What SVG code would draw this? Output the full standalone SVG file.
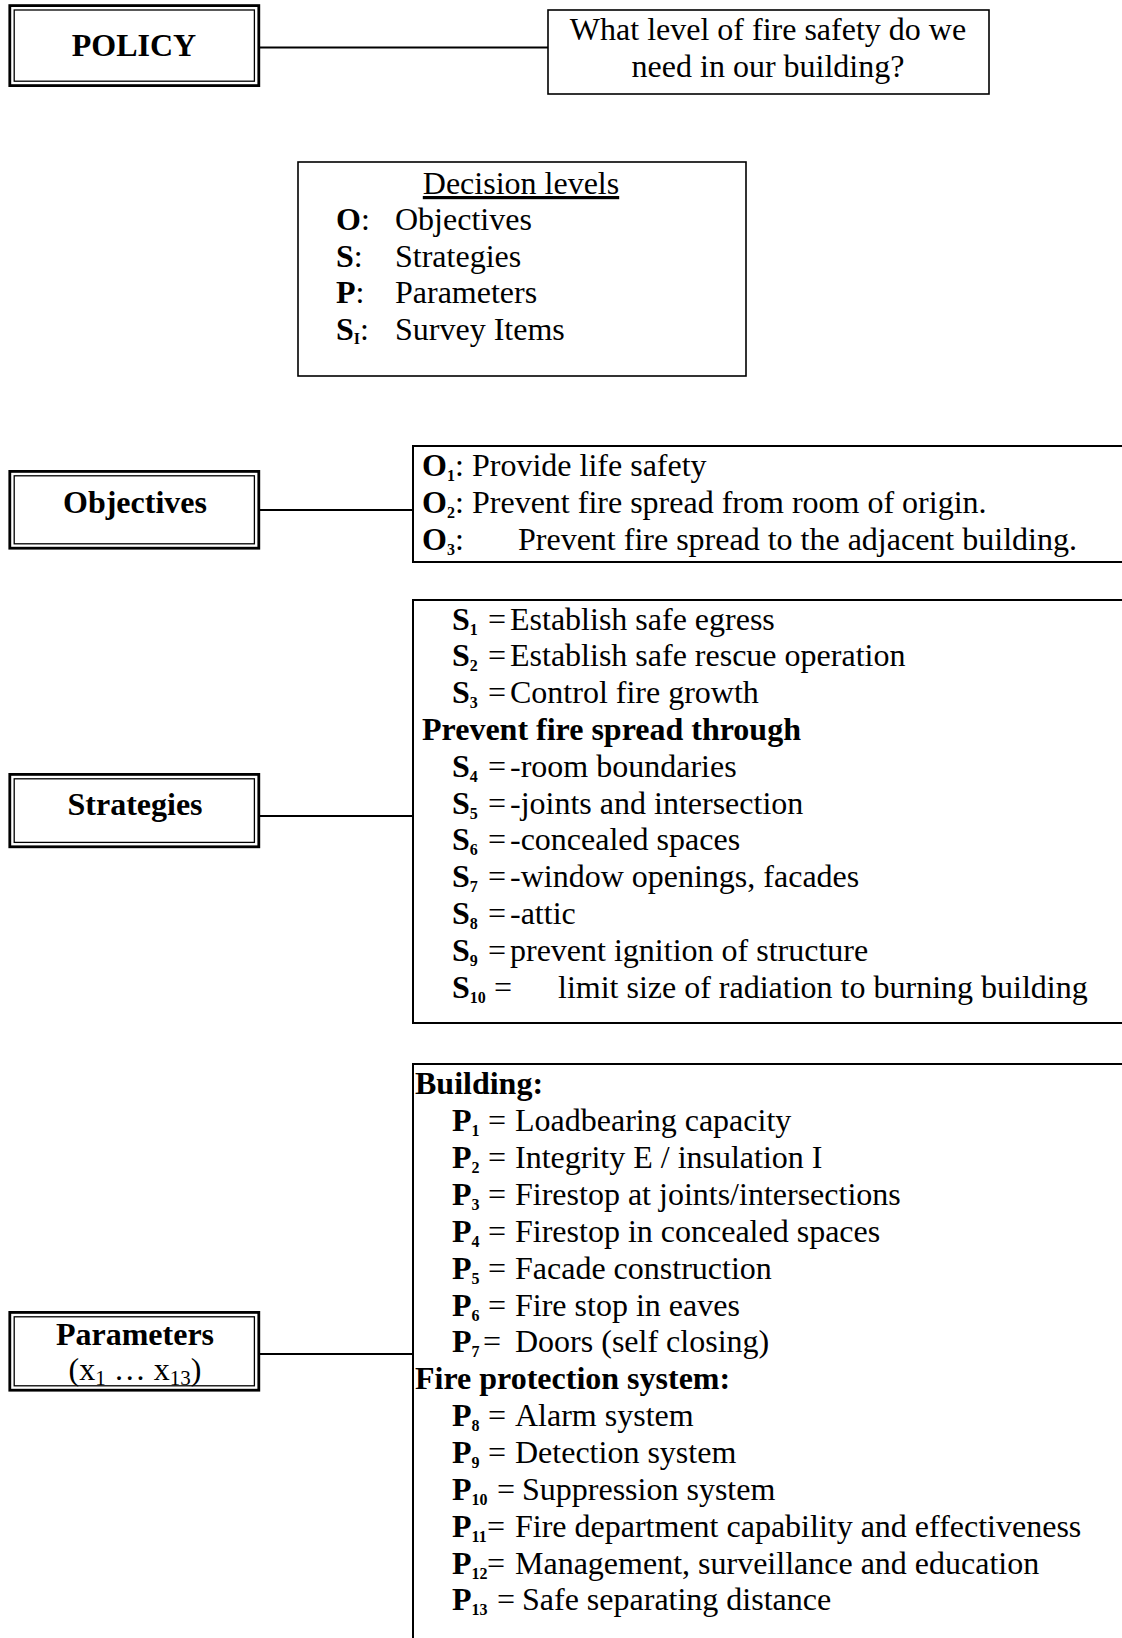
<svg xmlns="http://www.w3.org/2000/svg" width="1122" height="1638" viewBox="0 0 1122 1638">
<style>
.t{font-family:"Liberation Serif","Times New Roman",serif;font-size:32px;fill:#000}
.b{font-weight:bold}
.sb{font-size:16px;font-weight:bold}
.sn{font-size:21px}
.c{text-anchor:middle}
.box{fill:#fff;stroke:#000;stroke-width:1.6}
.lbox{fill:#fff;stroke:#000;stroke-width:2}
.outer{fill:#fff;stroke:#000;stroke-width:2.8}
.inner{fill:none;stroke:#000;stroke-width:1.3}
.conn{stroke:#000;stroke-width:2;fill:none}
</style>
<rect width="1122" height="1638" fill="#fff"/>
<g id="connectors">
<line class="conn" x1="260" y1="47.5" x2="548" y2="47.5"/>
<line class="conn" x1="260" y1="510" x2="413" y2="510"/>
<line class="conn" x1="260" y1="816" x2="413" y2="816"/>
<line class="conn" x1="260" y1="1354" x2="413" y2="1354"/>
</g>
<g id="policy">
<rect class="outer" x="9.8" y="5.6" width="249" height="80"/>
<rect class="inner" x="14.2" y="10" width="240.2" height="71.2"/>
<text class="t b c" x="134" y="56">POLICY</text>
</g>
<g id="question">
<rect class="box" x="548" y="10" width="441" height="84"/>
<text class="t c" x="768" y="40">What level of fire safety do we</text>
<text class="t c" x="768" y="77">need in our building?</text>
</g>
<g id="decision-levels">
<rect class="box" x="298" y="162" width="448" height="214"/>
<text class="t c" x="521" y="194" style="text-decoration:underline">Decision levels</text>
<text class="t" x="336" y="230"><tspan class="b">O</tspan>:</text>
<text class="t" x="395" y="230">Objectives</text>
<text class="t" x="336" y="266.5"><tspan class="b">S</tspan>:</text>
<text class="t" x="395" y="266.5">Strategies</text>
<text class="t" x="336" y="303"><tspan class="b">P</tspan>:</text>
<text class="t" x="395" y="303">Parameters</text>
<text class="t" x="336" y="340"><tspan class="b">S</tspan><tspan class="sb" dy="4">I</tspan><tspan dy="-4">:</tspan></text>
<text class="t" x="395" y="340">Survey Items</text>
</g>
<g id="objectives">
<rect class="outer" x="9.8" y="471.4" width="249" height="76.8"/>
<rect class="inner" x="14.2" y="475.8" width="240.2" height="68"/>
<text class="t b c" x="135" y="513">Objectives</text>
</g>
<g id="objectives-list">
<rect class="lbox" x="413" y="446" width="730" height="116"/>
<text class="t" x="422" y="476"><tspan class="b">O</tspan><tspan class="sb" dy="5">1</tspan><tspan dy="-5">:</tspan></text>
<text class="t" x="472" y="476">Provide life safety</text>
<text class="t" x="422" y="512.5"><tspan class="b">O</tspan><tspan class="sb" dy="5">2</tspan><tspan dy="-5">:</tspan></text>
<text class="t" x="472" y="512.5">Prevent fire spread from room of origin.</text>
<text class="t" x="422" y="550"><tspan class="b">O</tspan><tspan class="sb" dy="5">3</tspan><tspan dy="-5">:</tspan></text>
<text class="t" x="518" y="550">Prevent fire spread to the adjacent building.</text>
</g>
<g id="strategies">
<rect class="outer" x="9.8" y="774.4" width="249" height="72.4"/>
<rect class="inner" x="14.2" y="778.8" width="240.2" height="63.6"/>
<text class="t b c" x="135" y="815">Strategies</text>
</g>
<g id="strategies-list">
<rect class="lbox" x="413" y="600" width="730" height="423"/>
<text class="t b" x="452" y="629.5">S<tspan class="sb" dy="5">1</tspan></text><text class="t" x="488" y="629.5">=</text><text class="t" x="510" y="629.5">Establish safe egress</text>
<text class="t b" x="452" y="666.3">S<tspan class="sb" dy="5">2</tspan></text><text class="t" x="488" y="666.3">=</text><text class="t" x="510" y="666.3">Establish safe rescue operation</text>
<text class="t b" x="452" y="703.1">S<tspan class="sb" dy="5">3</tspan></text><text class="t" x="488" y="703.1">=</text><text class="t" x="510" y="703.1">Control fire growth</text>
<text class="t b" x="422" y="739.9">Prevent fire spread through</text>
<text class="t b" x="452" y="776.7">S<tspan class="sb" dy="5">4</tspan></text><text class="t" x="488" y="776.7">=</text><text class="t" x="510" y="776.7">-room boundaries</text>
<text class="t b" x="452" y="813.5">S<tspan class="sb" dy="5">5</tspan></text><text class="t" x="488" y="813.5">=</text><text class="t" x="510" y="813.5">-joints and intersection</text>
<text class="t b" x="452" y="850.3">S<tspan class="sb" dy="5">6</tspan></text><text class="t" x="488" y="850.3">=</text><text class="t" x="510" y="850.3">-concealed spaces</text>
<text class="t b" x="452" y="887.1">S<tspan class="sb" dy="5">7</tspan></text><text class="t" x="488" y="887.1">=</text><text class="t" x="510" y="887.1">-window openings, facades</text>
<text class="t b" x="452" y="923.9">S<tspan class="sb" dy="5">8</tspan></text><text class="t" x="488" y="923.9">=</text><text class="t" x="510" y="923.9">-attic</text>
<text class="t b" x="452" y="960.7">S<tspan class="sb" dy="5">9</tspan></text><text class="t" x="488" y="960.7">=</text><text class="t" x="510" y="960.7">prevent ignition of structure</text>
<text class="t b" x="452" y="997.5">S<tspan class="sb" dy="5">10</tspan></text><text class="t" x="494" y="997.5">=</text><text class="t" x="558" y="997.5">limit size of radiation to burning building</text>
</g>
<g id="parameters">
<rect class="outer" x="9.8" y="1312.4" width="249" height="77.8"/>
<rect class="inner" x="14.2" y="1316.8" width="240.2" height="69"/>
<text class="t b c" x="135" y="1345">Parameters</text>
<text class="t c" x="135" y="1380">(x<tspan class="sn" dy="5">1</tspan><tspan dy="-5"> … x</tspan><tspan class="sn" dy="5">13</tspan><tspan dy="-5">)</tspan></text>
</g>
<g id="parameters-list">
<rect class="lbox" x="413" y="1064" width="730" height="600"/>
<text class="t b" x="415" y="1094.4">Building:</text>
<text class="t b" x="452" y="1131.3">P<tspan class="sb" dy="5">1</tspan></text><text class="t" x="488" y="1131.3">=</text><text class="t" x="515" y="1131.3">Loadbearing capacity</text>
<text class="t b" x="452" y="1168.1">P<tspan class="sb" dy="5">2</tspan></text><text class="t" x="488" y="1168.1">=</text><text class="t" x="515" y="1168.1">Integrity E / insulation I</text>
<text class="t b" x="452" y="1205">P<tspan class="sb" dy="5">3</tspan></text><text class="t" x="488" y="1205">=</text><text class="t" x="515" y="1205">Firestop at joints/intersections</text>
<text class="t b" x="452" y="1241.8">P<tspan class="sb" dy="5">4</tspan></text><text class="t" x="488" y="1241.8">=</text><text class="t" x="515" y="1241.8">Firestop in concealed spaces</text>
<text class="t b" x="452" y="1278.7">P<tspan class="sb" dy="5">5</tspan></text><text class="t" x="488" y="1278.7">=</text><text class="t" x="515" y="1278.7">Facade construction</text>
<text class="t b" x="452" y="1315.6">P<tspan class="sb" dy="5">6</tspan></text><text class="t" x="488" y="1315.6">=</text><text class="t" x="515" y="1315.6">Fire stop in eaves</text>
<text class="t b" x="452" y="1352.4">P<tspan class="sb" dy="5">7</tspan></text><text class="t" x="483" y="1352.4">=</text><text class="t" x="515" y="1352.4">Doors (self closing)</text>
<text class="t b" x="415" y="1389.3">Fire protection system:</text>
<text class="t b" x="452" y="1426.1">P<tspan class="sb" dy="5">8</tspan></text><text class="t" x="488" y="1426.1">=</text><text class="t" x="515" y="1426.1">Alarm system</text>
<text class="t b" x="452" y="1463">P<tspan class="sb" dy="5">9</tspan></text><text class="t" x="488" y="1463">=</text><text class="t" x="515" y="1463">Detection system</text>
<text class="t b" x="452" y="1499.9">P<tspan class="sb" dy="5">10</tspan></text><text class="t" x="497" y="1499.9">=</text><text class="t" x="522" y="1499.9">Suppression system</text>
<text class="t b" x="452" y="1536.7">P<tspan class="sb" dy="5">11</tspan></text><text class="t" x="487" y="1536.7">=</text><text class="t" x="515" y="1536.7">Fire department capability and effectiveness</text>
<text class="t b" x="452" y="1573.6">P<tspan class="sb" dy="5">12</tspan></text><text class="t" x="487" y="1573.6">=</text><text class="t" x="515" y="1573.6">Management, surveillance and education</text>
<text class="t b" x="452" y="1610.4">P<tspan class="sb" dy="5">13</tspan></text><text class="t" x="497" y="1610.4">=</text><text class="t" x="522" y="1610.4">Safe separating distance</text>
</g>
</svg>
